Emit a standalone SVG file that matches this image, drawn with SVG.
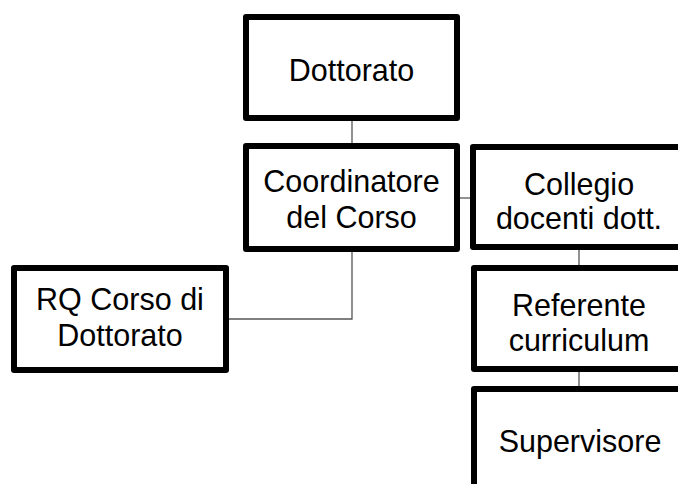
<svg xmlns="http://www.w3.org/2000/svg" width="678" height="484" viewBox="0 0 678 484">
<style>
.box{fill:#fff;stroke:#000;stroke-width:6;stroke-linejoin:round}
.lbl{font-family:"Liberation Sans",Arial,sans-serif;font-size:30.5px;fill:#000;text-anchor:middle}
.conn{fill:none;stroke:#555;stroke-width:1.3}
</style>
<rect width="678" height="484" fill="#fff"/>
<g id="connectors">
<path class="conn" d="M352,121V143"/>
<path class="conn" d="M460,198H470"/>
<path class="conn" d="M579,250V265"/>
<path class="conn" d="M579,372V386"/>
<path class="conn" d="M352,252V319H229"/>
</g>
<g id="dottorato">
<rect class="box" x="246" y="17" width="211" height="101"/>
<text class="lbl" x="351.5" y="81">Dottorato</text>
</g>
<g id="coordinatore">
<rect class="box" x="246" y="146" width="211" height="103"/>
<text class="lbl" x="351.5" y="192">Coordinatore</text>
<text class="lbl" x="351.5" y="228">del Corso</text>
</g>
<g id="collegio">
<rect class="box" x="473" y="147" width="213" height="100"/>
<text class="lbl" x="579" y="195">Collegio</text>
<text class="lbl" x="579" y="229">docenti dott.</text>
</g>
<g id="referente">
<rect class="box" x="474" y="268" width="213" height="101"/>
<text class="lbl" x="579" y="316">Referente</text>
<text class="lbl" x="579" y="351">curriculum</text>
</g>
<g id="supervisore">
<rect class="box" x="474" y="389" width="213" height="110"/>
<text class="lbl" x="580" y="452">Supervisore</text>
</g>
<g id="rq">
<rect class="box" x="14" y="268" width="212" height="102"/>
<text class="lbl" x="120" y="310">RQ Corso di</text>
<text class="lbl" x="120" y="346">Dottorato</text>
</g>
</svg>
